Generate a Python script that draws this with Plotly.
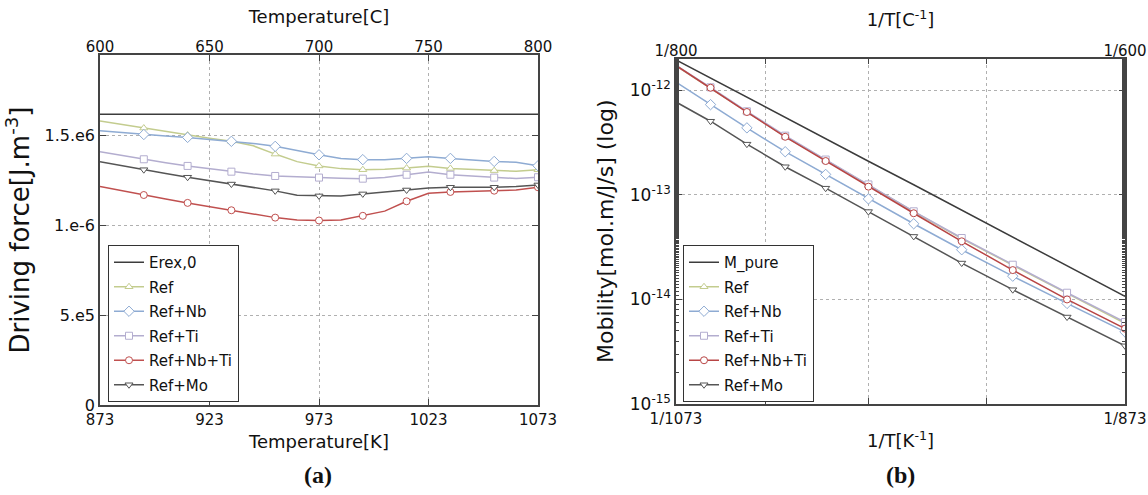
import plotly.graph_objects as go

W, H = 1148, 495

# ---------------- data: panel (a) driving force (units of 1e6 J/m3) ----------------
temps_a = [873, 883, 893, 903, 913, 923, 933, 943, 953, 963, 973,
           983, 993, 1003, 1013, 1023, 1033, 1043, 1053, 1063, 1073]
erex_T = [873, 1073]
erex_0 = [1.62, 1.62]
df_ref = [1.583, 1.563, 1.543, 1.523, 1.504, 1.486, 1.469, 1.444, 1.398, 1.356, 1.332,
          1.317, 1.311, 1.313, 1.320, 1.330, 1.318, 1.313, 1.306, 1.302, 1.311]
df_ref_nb = [1.528, 1.517, 1.507, 1.499, 1.491, 1.481, 1.469, 1.457, 1.441, 1.417, 1.394,
             1.374, 1.367, 1.367, 1.374, 1.383, 1.374, 1.365, 1.357, 1.352, 1.333]
df_ref_ti = [1.411, 1.390, 1.369, 1.350, 1.332, 1.316, 1.300, 1.287, 1.276, 1.270, 1.267,
             1.263, 1.261, 1.268, 1.283, 1.298, 1.283, 1.275, 1.267, 1.262, 1.269]
df_ref_nbti = [1.217, 1.193, 1.170, 1.148, 1.126, 1.105, 1.085, 1.064, 1.044, 1.031, 1.028,
               1.031, 1.054, 1.080, 1.135, 1.180, 1.187, 1.190, 1.194, 1.198, 1.213]
df_ref_mo = [1.356, 1.333, 1.311, 1.290, 1.269, 1.250, 1.231, 1.212, 1.193, 1.169, 1.165,
             1.165, 1.176, 1.187, 1.198, 1.209, 1.213, 1.213, 1.213, 1.218, 1.226]
a_yticks = [0, 0.5, 1.0, 1.5]
a_yticktext = ["0", "5.e5", "1.e-6", "1.5.e6"]
a_xticks = [873, 923, 973, 1023, 1073]
a_topticks = [600, 650, 700, 750, 800]

# ---------------- data: panel (b) mobility ----------------
temps_b = [1073, 1053, 1033, 1013, 993, 973, 953, 933, 913, 893, 873]
m_pure = [1.96e-12, 1.31e-12, 8.61e-13, 5.52e-13, 3.45e-13, 2.10e-13, 1.25e-13, 7.13e-14, 3.95e-14, 2.10e-14, 1.07e-14]
m_ref = [1.72e-12, 1.05e-12, 6.20e-13, 3.62e-13, 2.15e-13, 1.24e-13, 6.90e-14, 3.82e-14, 2.12e-14, 1.14e-14, 5.90e-15]
m_ref_nb = [1.20e-12, 7.31e-13, 4.38e-13, 2.59e-13, 1.57e-13, 9.16e-14, 5.30e-14, 2.99e-14, 1.67e-14, 9.16e-15, 4.89e-15]
m_ref_ti = [1.73e-12, 1.07e-12, 6.31e-13, 3.69e-13, 2.18e-13, 1.26e-13, 6.97e-14, 3.87e-14, 2.15e-14, 1.16e-14, 6.08e-15]
m_ref_nbti = [1.73e-12, 1.06e-12, 6.21e-13, 3.60e-13, 2.11e-13, 1.20e-13, 6.68e-14, 3.60e-14, 1.91e-14, 1.00e-14, 5.26e-15]
m_ref_mo = [7.74e-13, 5.07e-13, 3.06e-13, 1.86e-13, 1.16e-13, 6.93e-14, 4.01e-14, 2.23e-14, 1.24e-14, 6.79e-15, 3.60e-15]
b_end_C = [800, 600]
b_grid_C = [750, 700, 650]
b_bottom_text = ["1/1073", "1/873"]
b_top_text = ["1/800", "1/600"]
b_yticks = [1e-15, 1e-14, 1e-13, 1e-12]
b_yticktext = ["10<sup>-15</sup>", "10<sup>-14</sup>", "10<sup>-13</sup>", "10<sup>-12</sup>"]

# ---------------- styles ----------------
FONT = "DejaVu Sans"
C_DARK = "#3c3c3c"
C_REF = "#c3cc8e"
C_NB = "#8eabd3"
C_TI = "#b3adcf"
C_NBTI = "#c0504f"
C_MO = "#555555"
AXC = "#444444"
GRIDC = "#b0b0b0"

def invC(tk):
    return 1.0 / (tk - 273.0)

fig = go.Figure()

def add_series(x, y, name, color, symbol, xa, ya, leg, msel, msize=7):
    fig.add_trace(go.Scatter(x=x, y=y, mode="lines", line=dict(color=color, width=1.5),
                             xaxis=xa, yaxis=ya, showlegend=False, hoverinfo="skip"))
    if symbol is not None:
        fig.add_trace(go.Scatter(x=[x[i] for i in msel], y=[y[i] for i in msel], mode="markers",
                                 marker=dict(symbol=symbol, size=msize, color="white",
                                             line=dict(color=color, width=1)),
                                 xaxis=xa, yaxis=ya, showlegend=False, hoverinfo="skip"))
    fig.add_trace(go.Scatter(x=[None], y=[None], name=name,
                             mode="lines+markers" if symbol else "lines",
                             line=dict(color=color, width=1.5),
                             marker=dict(symbol=symbol or "circle", size=msize, color="white",
                                         line=dict(color=color, width=1)),
                             xaxis=xa, yaxis=ya, legend=leg, legendgroup=leg + name))

sel_a = list(range(2, len(temps_a), 2))
add_series(erex_T, erex_0, "Erex,0", C_DARK, None, "x", "y", "legend", [])
add_series(temps_a, df_ref, "Ref", C_REF, "triangle-up", "x", "y", "legend", sel_a)
add_series(temps_a, df_ref_nb, "Ref+Nb", C_NB, "diamond", "x", "y", "legend", sel_a, 8)
add_series(temps_a, df_ref_ti, "Ref+Ti", C_TI, "square", "x", "y", "legend", sel_a)
add_series(temps_a, df_ref_nbti, "Ref+Nb+Ti", C_NBTI, "circle", "x", "y", "legend", sel_a)
add_series(temps_a, df_ref_mo, "Ref+Mo", C_MO, "triangle-down", "x", "y", "legend", sel_a)

xb = [invC(t) for t in temps_b]
sel_b = list(range(1, len(temps_b)))
add_series(xb, m_pure, "M_pure", C_DARK, None, "x2", "y2", "legend2", [])
add_series(xb, m_ref, "Ref", C_REF, "triangle-up", "x2", "y2", "legend2", sel_b)
add_series(xb, m_ref_nb, "Ref+Nb", C_NB, "diamond", "x2", "y2", "legend2", sel_b, 8)
add_series(xb, m_ref_ti, "Ref+Ti", C_TI, "square", "x2", "y2", "legend2", sel_b)
add_series(xb, m_ref_nbti, "Ref+Nb+Ti", "#b84545", "circle", "x2", "y2", "legend2", sel_b)
add_series(xb, m_ref_mo, "Ref+Mo", C_MO, "triangle-down", "x2", "y2", "legend2", sel_b)

# dummy traces so top axes render
fig.add_trace(go.Scatter(x=[600, 800], y=[None, None], xaxis="x3", yaxis="y", showlegend=False, hoverinfo="skip"))
fig.add_trace(go.Scatter(x=[invC(1073), invC(873)], y=[None, None], xaxis="x4", yaxis="y2", showlegend=False, hoverinfo="skip"))

tickfont = dict(family=FONT, size=15, color="#111")
titlefont = dict(family=FONT, size=18, color="#111")

common = dict(showline=True, linecolor=AXC, linewidth=1.5, ticks="inside", ticklen=6,
              tickcolor=AXC, tickfont=tickfont, automargin=False, zeroline=False)

dom_ax = [100 / W, 538 / W]
dom_ay = [1 - 405 / H, 1 - 55 / H]
dom_bx = [676 / W, 1125 / W]
dom_by = [1 - 404 / H, 1 - 58.5 / H]

b_range = [invC(1073), invC(873)]
b_ticks = [1.0 / c for c in b_end_C]
b_minor = [1.0 / c for c in b_grid_C]

fig.update_layout(
    width=W, height=H, margin=dict(l=0, r=0, t=0, b=0),
    paper_bgcolor="white", plot_bgcolor="white",
    font=dict(family=FONT, color="#111"),
    xaxis=dict(common, domain=dom_ax, anchor="y", range=[873, 1073], tickvals=a_xticks,
               showgrid=True, gridcolor=GRIDC, griddash="dot", gridwidth=1,
               title=dict(text="Temperature[K]", font=titlefont, standoff=8)),
    xaxis3=dict(common, overlaying="x", side="top", anchor="y", range=[600, 800], tickvals=a_topticks,
                showgrid=False, ticklabelstandoff=-5,
                title=dict(text="Temperature[C]", font=titlefont, standoff=10)),
    yaxis=dict(common, domain=dom_ay, anchor="x", range=[0, 1.95], tickvals=a_yticks,
               ticktext=a_yticktext, tickfont=dict(family=FONT, size=16, color="#111"), mirror="ticks",
               showgrid=True, gridcolor=GRIDC, griddash="dot", gridwidth=1,
               title=dict(text="Driving force[J.m<sup>-3</sup>]", font=dict(family=FONT, size=26, color="#111"), standoff=7)),
    xaxis2=dict(common, domain=dom_bx, anchor="y2", range=b_range,
                tickvals=b_ticks, ticktext=b_bottom_text, showgrid=False,
                minor=dict(tickvals=b_minor, ticks="inside", ticklen=6, tickcolor=AXC,
                           showgrid=True, gridcolor=GRIDC, griddash="dot", gridwidth=1),
                title=dict(text="1/T[K<sup>-1</sup>]", font=titlefont, standoff=8)),
    xaxis4=dict(common, overlaying="x2", side="top", anchor="y2", range=b_range,
                tickvals=b_ticks, ticktext=b_top_text, showgrid=False, ticklabelstandoff=-5,
                minor=dict(tickvals=b_minor, ticks="inside", ticklen=6, tickcolor=AXC, showgrid=False),
                title=dict(text="1/T[C<sup>-1</sup>]", font=titlefont, standoff=10)),
    yaxis2=dict(common, domain=dom_by, anchor="x2", type="log", range=[-15, -11.695],
                tickvals=b_yticks, ticktext=b_yticktext, mirror="ticks",
                tickfont=dict(family=FONT, size=17, color="#111"),
                showgrid=True, gridcolor=GRIDC, griddash="dot", gridwidth=1,
                minor=dict(ticks="inside", ticklen=3, tickcolor=AXC, showgrid=False),
                title=dict(text="Mobility[mol.m/J/s] (log)", font=dict(family=FONT, size=22, color="#111"), standoff=10)),
    legend=dict(x=108 / W, y=1 - 245 / H, xanchor="left", yanchor="top", bgcolor="white",
                bordercolor="#333", borderwidth=1, font=dict(family=FONT, size=15, color="#111"),
                traceorder="grouped", tracegroupgap=2),
    legend2=dict(x=683 / W, y=1 - 245 / H, xanchor="left", yanchor="top", bgcolor="white",
                 bordercolor="#333", borderwidth=1, font=dict(family=FONT, size=15, color="#111"),
                 traceorder="grouped", tracegroupgap=2),
    annotations=[
        dict(text="<b>(a)</b>", x=318 / W, y=1 - 475 / H, xref="paper", yref="paper",
             xanchor="center", yanchor="middle",
             showarrow=False, font=dict(family="Liberation Serif", size=24, color="#111")),
        dict(text="<b>(b)</b>", x=900 / W, y=1 - 475 / H, xref="paper", yref="paper",
             xanchor="center", yanchor="middle",
             showarrow=False, font=dict(family="Liberation Serif", size=24, color="#111")),
    ],
)

fig.write_html("out.html")
